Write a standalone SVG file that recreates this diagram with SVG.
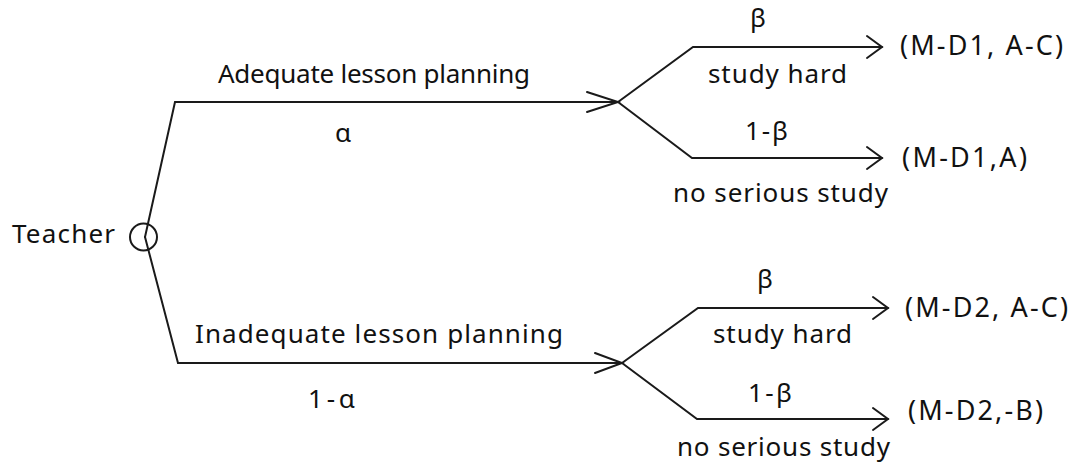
<svg xmlns="http://www.w3.org/2000/svg" width="1075" height="471" viewBox="0 0 1075 471">
<style>
.ln{fill:none;stroke:#1a1a1a;stroke-width:2;stroke-linejoin:miter;stroke-linecap:round}
.t{font-family:"Noto Sans","Open Sans","DejaVu Sans",sans-serif;font-size:26px;fill:#111}
.o{font-size:27px}
.m{text-anchor:middle}
</style>
<rect width="1075" height="471" fill="#fff"/>
<g id="connectors">
<polyline class="ln" points="145,237 175,102 618,102"/>
<polyline class="ln" points="587,92 618,102 587,112"/>
<polyline class="ln" points="145,237 178,363 622,363"/>
<polyline class="ln" points="595,353 622,363 595,373"/>
<polyline class="ln" points="618,102 693,47 882,47"/>
<polyline class="ln" points="867,36 882,47 867,58"/>
<polyline class="ln" points="618,102 692,158 882,158"/>
<polyline class="ln" points="867,147 882,158 867,169"/>
<polyline class="ln" points="622,363 698,308 888,308"/>
<polyline class="ln" points="873,297 888,308 873,319"/>
<polyline class="ln" points="622,363 697,419 888,419"/>
<polyline class="ln" points="873,408 888,419 873,430"/>
</g>
<g id="teacher">
<circle cx="143.5" cy="237" r="13.5" fill="none" stroke="#1a1a1a" stroke-width="2"/>
<text class="t" x="12" y="243" textLength="103">Teacher</text>
</g>
<g id="edge-labels">
<text class="t" x="218" y="83" textLength="312">Adequate lesson planning</text>
<text class="t m" x="343" y="142">α</text>
<text class="t" x="195" y="343" textLength="368">Inadequate lesson planning</text>
<text class="t" x="308" y="408" textLength="47">1-α</text>
<text class="t m" x="758" y="27">β</text>
<text class="t" x="708" y="83" textLength="139">study hard</text>
<text class="t" x="745" y="140" textLength="43">1-β</text>
<text class="t" x="673" y="202" textLength="215">no serious study</text>
<text class="t m" x="765" y="288">β</text>
<text class="t" x="713" y="343" textLength="139">study hard</text>
<text class="t" x="748" y="402" textLength="44">1-β</text>
<text class="t" x="677" y="456" textLength="213">no serious study</text>
</g>
<g id="outcome-1"><text class="t o" x="900" y="55" textLength="163">(M-D1, A-C)</text></g>
<g id="outcome-2"><text class="t o" x="902" y="167" textLength="125">(M-D1,A)</text></g>
<g id="outcome-3"><text class="t o" x="905" y="317" textLength="163">(M-D2, A-C)</text></g>
<g id="outcome-4"><text class="t o" x="908" y="420" textLength="135">(M-D2,-B)</text></g>
</svg>
